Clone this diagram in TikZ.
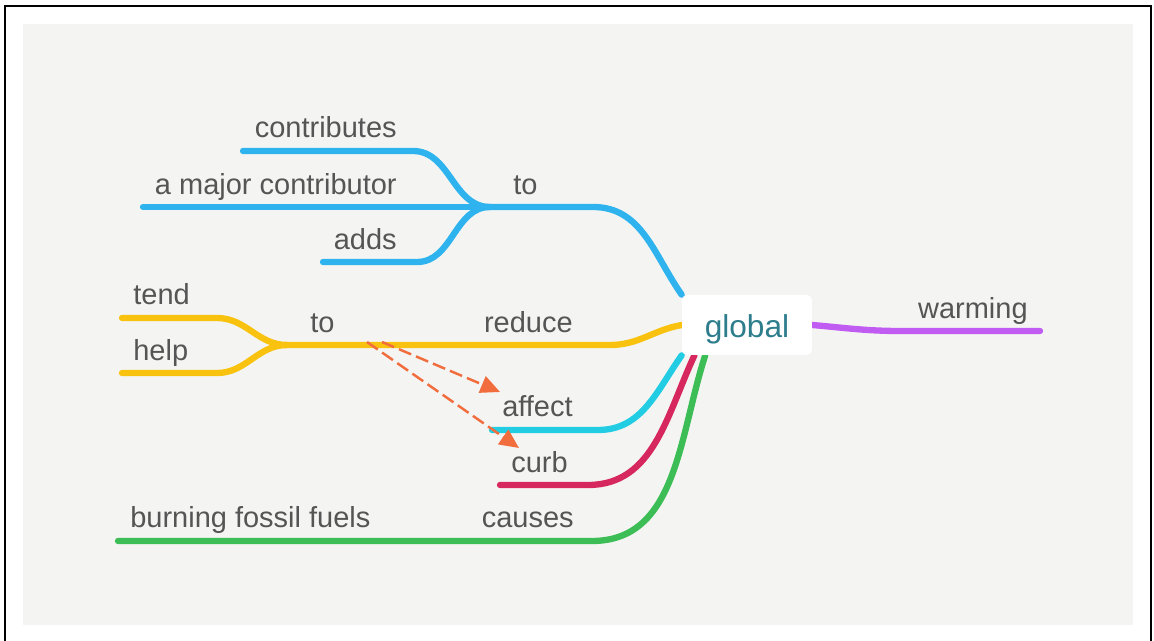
\documentclass[tikz,border=0pt]{standalone}
\usepackage{fontspec}
\setmainfont{Liberation Sans}
\usetikzlibrary{arrows.meta,positioning,backgrounds}

\definecolor{panel}{HTML}{F4F5F3}
\definecolor{wordgray}{HTML}{555555}
\definecolor{hubteal}{HTML}{2E7D8C}
\definecolor{skyblue}{HTML}{2FB3EF}
\definecolor{sunyellow}{HTML}{F8C20E}
\definecolor{aqua}{HTML}{22CDE3}
\definecolor{berry}{HTML}{D6275F}
\definecolor{leaf}{HTML}{3DBD55}
\definecolor{violet}{HTML}{C05CF2}
\definecolor{hintorange}{HTML}{F26D3D}

\begin{document}
\begin{tikzpicture}[x=0.02cm,y=-0.02cm,
    branch/.style={line width=3.6pt,line cap=round},
    word/.style={inner sep=0pt,text=wordgray,font=\fontsize{16.5}{19}\selectfont},
    hint/.style={draw=hintorange,line width=1.4pt,dash pattern=on 7.5pt off 3pt,
      -{Triangle[length=11pt,width=10pt]}},
    hub/.style={fill=white,rounded corners=3pt,minimum width=2.6cm,minimum height=1.2cm,
      text height=16.5pt,text depth=2pt,text=hubteal,font=\fontsize{18}{21}\selectfont}]
  \useasboundingbox (0,0) rectangle (1154,641);
  \draw[line width=1.2pt] (5,641) |- (1151,6) -- (1151,641);

  \node[hub] (global) at (747,325) {global};

  % labels sit on their branches
  \node[word,anchor=base east] (contrib) at (397,138) {contributes};
  \node[word,anchor=base east] (major) at (397,195) {a major contributor};
  \node[word,anchor=base east] (adds) at (397,250) {adds};
  \node[word,anchor=base west] (to_a) at (513,195) {to};
  \node[word,anchor=base west] (tend) at (133,305) {tend};
  \node[word,anchor=base west] (help) at (133,361) {help};
  \node[word,anchor=base west] (to_b) at (310,333) {to};
  \node[word,anchor=base east] (reduce) at (573,333) {reduce};
  \node[word,anchor=base east] (affect) at (573,417) {affect};
  \node[word,anchor=base east] (curb) at (568,473) {curb};
  \node[word,anchor=base west] (burning) at (130,528) {burning fossil fuels};
  \node[word,anchor=base east] (causes) at (574,528) {causes};
  \node[word,anchor=base east] (warming) at (1028,319) {warming};

  \coordinate (contrib_s) at (243,151);
  \coordinate (major_s) at (143,207);
  \coordinate (adds_s) at (323,262);
  \coordinate (to_a_j) at (490,207);
  \coordinate (tend_s) at (122,318);
  \coordinate (help_s) at (122,373);
  \coordinate (to_b_j) at (287,345);
  \coordinate (affect_s) at (492,430);
  \coordinate (curb_s) at (500,485);
  \coordinate (burning_s) at (118,541);
  \coordinate (warming_e) at (1040,331);

  \begin{scope}[on background layer]
    \fill[panel] (23,24) rectangle (1133,625);
    % blue fork
    \draw[branch,skyblue] (contrib_s) -- ++(170,0) to[out=0,in=180] (to_a_j);
    \draw[branch,skyblue] (major_s) -- (to_a_j);
    \draw[branch,skyblue] (adds_s) -- ++(94,0) to[out=0,in=180] (to_a_j);
    \draw[branch,skyblue] (to_a_j) -- ++(103,0) to[out=0,in=125] (global.north west);
    % yellow fork
    \draw[branch,sunyellow] (tend_s) -- ++(95,0) to[out=0,in=180] (to_b_j);
    \draw[branch,sunyellow] (help_s) -- ++(95,0) to[out=0,in=180] (to_b_j);
    \draw[branch,sunyellow] (to_b_j) -- ++(323,0) to[out=0,in=190] (global.west);
    % lower branches
    \draw[branch,aqua] (affect_s) -- ++(106,0) to[out=0,in=-125] (global.south west);
    \draw[branch,berry] (curb_s) -- ++(88,0) to[out=0,in=-115] (global.-150);
    \draw[branch,leaf] (burning_s) -- ++(474,0) to[out=0,in=-108] (global.-144);
    \draw[branch,violet] (global.east) to[out=-5,in=180] ++(88,6) -- (warming_e);
  \end{scope}

  \coordinate (hint_a_s) at (382,342);
  \coordinate (hint_a_e) at (500,392);
  \coordinate (hint_b_s) at (367,342);
  \coordinate (hint_b_e) at (519,448);
  \draw[hint] (hint_a_s) -- (hint_a_e);
  \draw[hint] (hint_b_s) -- (hint_b_e);
\end{tikzpicture}
\end{document}
